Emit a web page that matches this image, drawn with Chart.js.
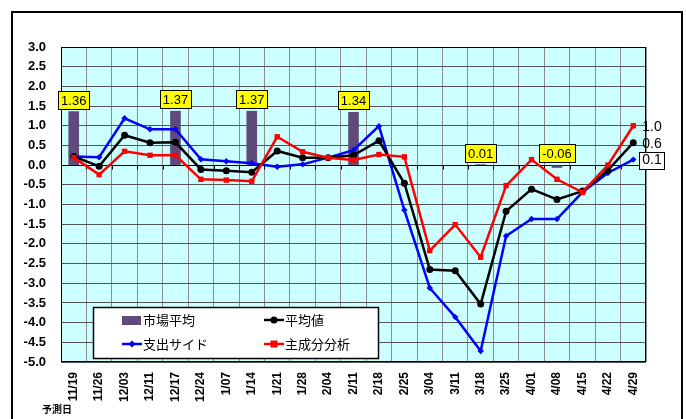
<!DOCTYPE html>
<html>
<head>
<meta charset="utf-8">
<script src="https://cdn.jsdelivr.net/npm/chart.js@4/dist/chart.umd.min.js"></script>
<style>
  html, body { margin: 0; padding: 0; background: #fff; }
  #wrap { width: 686px; height: 419px; position: relative; }
</style>
</head>
<body>
<div id="wrap"><canvas id="c" width="686" height="419"></canvas></div>
<script>
// Forecast dates (予測日)
const dates = ['11/19', '11/26', '12/03', '12/11', '12/17', '12/24', '1/07', '1/14', '1/21', '1/28',
  '2/04', '2/11', '2/18', '2/25', '3/04', '3/11', '3/18', '3/25', '4/01', '4/08', '4/15', '4/22', '4/29'];

// 市場平均 (bars, only on some dates)
const marketAvg = [1.36, null, null, null, 1.37, null, null, 1.37, null, null,
  null, 1.34, null, null, null, null, 0.01, null, null, -0.06, null, null, null];

// 平均値
const meanValue = [0.22, -0.03, 0.76, 0.57, 0.58, -0.11, -0.14, -0.18, 0.36, 0.19,
  0.19, 0.25, 0.62, -0.46, -2.65, -2.68, -3.53, -1.17, -0.61, -0.87, -0.66, -0.13, 0.57];

// 支出サイド
const expenditure = [0.22, 0.20, 1.19, 0.91, 0.91, 0.15, 0.10, 0.05, -0.04, 0.02,
  0.19, 0.38, 0.99, -1.14, -3.12, -3.86, -4.72, -1.80, -1.37, -1.37, -0.69, -0.20, 0.14];

// 主成分分析
const principal = [0.19, -0.24, 0.35, 0.25, 0.25, -0.36, -0.38, -0.41, 0.72, 0.34,
  0.19, 0.13, 0.27, 0.21, -2.17, -1.51, -2.34, -0.52, 0.14, -0.36, -0.69, 0.00, 1.00];

// Value axis range
const yMin = -5.0;
const yMax = 3.0;
const yStep = 0.5;

const FONT = 'Arial, "Liberation Sans", sans-serif';
const JP_FONT = '"Noto Sans CJK JP", Arial, sans-serif';

// Frame, plot-area fill, plot border and tick marks on the zero axis
const framePlugin = {
  id: 'frame',
  beforeDraw(chart) {
    const { ctx, chartArea: a } = chart;
    ctx.save();
    ctx.fillStyle = '#fff';
    ctx.fillRect(0, 0, chart.width, chart.height);
    ctx.strokeStyle = '#000';
    ctx.lineWidth = 2;
    ctx.strokeRect(12, 12, 670, 440);
    ctx.fillStyle = '#CCFFFF';
    ctx.fillRect(a.left, a.top, a.right - a.left, a.bottom - a.top);
    ctx.restore();
  },
  beforeDatasetsDraw(chart) {
    const { ctx, chartArea: a, scales } = chart;
    ctx.save();
    ctx.strokeStyle = '#000';
    ctx.lineWidth = 1;
    ctx.strokeRect(Math.round(a.left) + 0.5, Math.round(a.top) + 0.5,
      Math.round(a.right - a.left) - 1, Math.round(a.bottom - a.top) - 1);
    const y0 = Math.round(scales.y.getPixelForValue(0)) + 0.5;
    ctx.beginPath();
    for (let i = 0; i <= dates.length; i++) {
      const x = Math.round(scales.x.getPixelForValue(i - 0.5)) + 0.5;
      ctx.moveTo(x, y0);
      ctx.lineTo(x, y0 + 4);
    }
    ctx.stroke();
    ctx.restore();
  }
};

// Yellow value boxes over the market-average bars, and end-of-line values
const labelPlugin = {
  id: 'labels',
  afterDatasetsDraw(chart) {
    const { ctx, scales } = chart;
    ctx.save();
    ctx.font = '13px ' + FONT;
    ctx.textBaseline = 'middle';
    ctx.textAlign = 'center';
    const y0 = scales.y.getPixelForValue(0);
    marketAvg.forEach((v, i) => {
      if (v === null) return;
      const x = scales.x.getPixelForValue(i);
      const top = Math.min(scales.y.getPixelForValue(v), y0);
      const txt = v.toFixed(2);
      const w = Math.round(ctx.measureText(txt).width) + 6;
      const h = 18;
      const bx = Math.round(x - w / 2) + 0.5;
      const by = Math.round(top - 3 - h) + 0.5;
      ctx.fillStyle = '#FFFF00';
      ctx.fillRect(bx, by, w, h);
      ctx.strokeStyle = '#000';
      ctx.lineWidth = 1;
      ctx.strokeRect(bx, by, w, h);
      ctx.fillStyle = '#000';
      ctx.fillText(txt, x, by + h / 2 + 0.5);
    });

    // last values of the three lines
    const last = dates.length - 1;
    const xEnd = scales.x.getPixelForValue(last) + 9;
    ctx.textAlign = 'left';
    ctx.font = '14px ' + FONT;
    const ends = [
      { v: principal[last], box: false },
      { v: meanValue[last], box: false },
      { v: expenditure[last], box: true }
    ];
    ends.forEach(e => {
      const y = scales.y.getPixelForValue(e.v);
      const txt = e.v.toFixed(1);
      if (e.box) {
        const w = Math.round(ctx.measureText(txt).width) + 6;
        ctx.fillStyle = '#fff';
        ctx.fillRect(Math.round(xEnd - 3) + 0.5, Math.round(y - 8) + 0.5, w, 17);
        ctx.strokeStyle = '#000';
        ctx.lineWidth = 1;
        ctx.strokeRect(Math.round(xEnd - 3) + 0.5, Math.round(y - 8) + 0.5, w, 17);
      }
      ctx.fillStyle = '#000';
      ctx.fillText(txt, xEnd, y + 1);
    });
    ctx.restore();
  },
  afterDraw(chart) {
    const { ctx } = chart;
    ctx.save();
    // axis caption under the date labels
    ctx.fillStyle = '#000';
    ctx.font = 'bold 10px ' + JP_FONT;
    ctx.textBaseline = 'middle';
    ctx.textAlign = 'left';
    ctx.fillText('予測日', 42, 409);

    // legend box
    const L = { x: 93.5, y: 307.5, w: 285, h: 51 };
    ctx.fillStyle = '#fff';
    ctx.fillRect(L.x, L.y, L.w, L.h);
    ctx.strokeStyle = '#000';
    ctx.lineWidth = 1.5;
    ctx.strokeRect(L.x, L.y, L.w, L.h);

    const ds = chart.data.datasets;
    const slots = [
      { d: ds[0], x: 122, y: 320 },
      { d: ds[1], x: 264, y: 320 },
      { d: ds[2], x: 122, y: 344 },
      { d: ds[3], x: 264, y: 344 }
    ];
    ctx.font = '13px ' + JP_FONT;
    slots.forEach(s => {
      if (s.d.type === 'bar') {
        ctx.fillStyle = s.d.backgroundColor;
        ctx.fillRect(s.x, s.y - 4, 19, 9);
      } else {
        ctx.strokeStyle = s.d.borderColor;
        ctx.lineWidth = 2.5;
        ctx.beginPath();
        ctx.moveTo(s.x, s.y);
        ctx.lineTo(s.x + 20, s.y);
        ctx.stroke();
        ctx.fillStyle = s.d.borderColor;
        const cx = s.x + 10;
        if (s.d.pointStyle === 'circle') {
          ctx.beginPath(); ctx.arc(cx, s.y, 3.5, 0, Math.PI * 2); ctx.fill();
        } else if (s.d.pointStyle === 'rect') {
          ctx.fillRect(cx - 3.5, s.y - 3.5, 7, 7);
        } else {
          ctx.beginPath();
          ctx.moveTo(cx, s.y - 3.5); ctx.lineTo(cx + 3.5, s.y);
          ctx.lineTo(cx, s.y + 3.5); ctx.lineTo(cx - 3.5, s.y);
          ctx.closePath(); ctx.fill();
        }
      }
      ctx.fillStyle = '#000';
      ctx.fillText(s.d.label, s.x + 21, s.y);
    });
    ctx.restore();
  }
};

new Chart(document.getElementById('c'), {
  data: {
    labels: dates,
    datasets: [
      {
        type: 'bar', label: '市場平均', data: marketAvg,
        backgroundColor: '#604A7B', borderWidth: 0, barThickness: 10, order: 3
      },
      {
        type: 'line', label: '平均値', data: meanValue,
        borderColor: '#000000', backgroundColor: '#000000', borderWidth: 2.5,
        pointStyle: 'circle', pointRadius: 3.5, pointBorderWidth: 0, tension: 0, order: 1
      },
      {
        type: 'line', label: '支出サイド', data: expenditure,
        borderColor: '#0000FF', backgroundColor: '#0000FF', borderWidth: 2.5,
        pointStyle: 'rectRot', pointRadius: 3.2, pointBorderWidth: 0, tension: 0, order: 2
      },
      {
        type: 'line', label: '主成分分析', data: principal,
        borderColor: '#FF0000', backgroundColor: '#FF0000', borderWidth: 2.5,
        pointStyle: 'rect', pointRadius: 3.8, pointBorderWidth: 0, tension: 0, order: 0
      }
    ]
  },
  options: {
    responsive: false,
    animation: false,
    events: [],
    layout: { padding: { left: 12, top: 47, right: 40, bottom: 0 } },
    plugins: { legend: { display: false }, tooltip: { enabled: false } },
    scales: {
      x: {
        offset: true,
        grid: { offset: true, color: '#8C8C8C', lineWidth: 1, drawTicks: false },
        border: { display: false },
        ticks: {
          autoSkip: false, minRotation: 90, maxRotation: 90, padding: 10,
          color: '#000', font: { family: FONT, size: 12, weight: 'bold' }
        },
        afterFit(s) { s.height = 57; }
      },
      y: {
        min: yMin, max: yMax,
        grid: {
          drawTicks: false,
          color: c => (c.tick && c.tick.value === 0 ? '#000000' : '#555555'),
          lineWidth: 1
        },
        border: { display: false },
        ticks: {
          stepSize: yStep, padding: 15, color: '#000',
          font: { family: FONT, size: 13, weight: 'bold' },
          callback: v => Number(v).toFixed(1)
        },
        afterFit(s) { s.width = 49; }
      }
    }
  },
  plugins: [framePlugin, labelPlugin]
});
</script>
</body>
</html>
